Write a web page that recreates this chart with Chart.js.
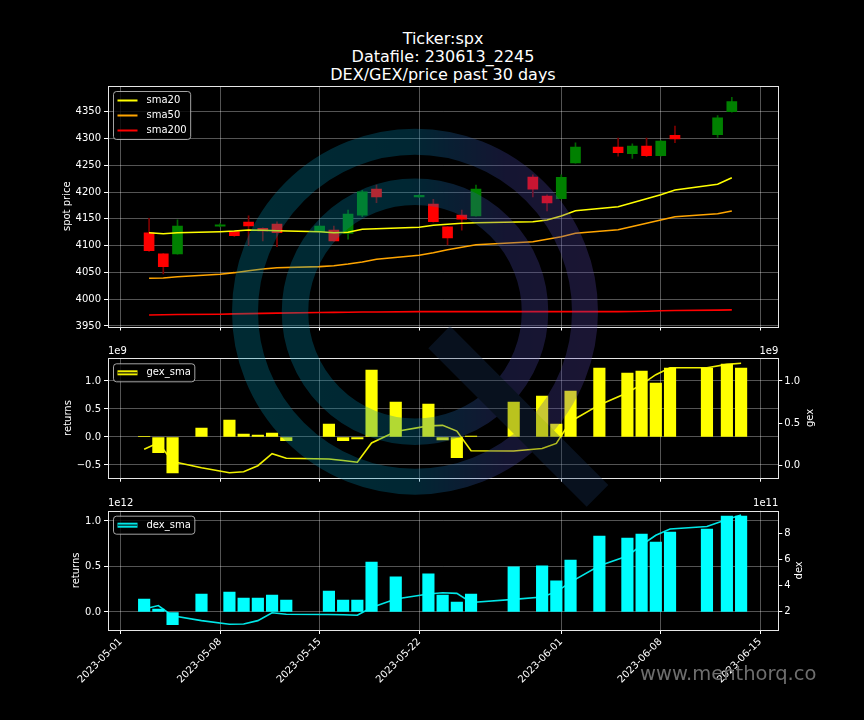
<!DOCTYPE html>
<html><head><meta charset="utf-8">
<script src="https://cdn.jsdelivr.net/npm/chart.js@4.4.0/dist/chart.umd.min.js"></script>
<style>
html,body{margin:0;padding:0;background:#000;}
#wrap{position:relative;width:864px;height:720px;background:#000;overflow:hidden;font-family:'DejaVu Sans',sans-serif;}
canvas{position:absolute;left:0;}
#title{position:absolute;left:143px;width:600px;top:30px;text-align:center;color:#fff;font-size:16px;line-height:18px;}
#site{position:absolute;left:640px;top:662px;color:#6e6e6e;font-size:19.5px;white-space:nowrap;}
#wm{pointer-events:none;}
</style></head><body>
<div id="wrap">
<div id="title">Ticker:spx<br>Datafile: 230613_2245<br>DEX/GEX/price past 30 days</div>
<canvas id="cTop" width="864" height="340" style="top:0"></canvas>
<canvas id="cMid" width="864" height="150" style="top:340px"></canvas>
<canvas id="cBot" width="864" height="230" style="top:490px"></canvas>
<div id="site">www.menthorq.co</div>
<canvas id="wm" width="864" height="720" style="top:0"></canvas>
</div>
<script>
// ---------------- data ----------------
const candleDates = ['2023-05-03','2023-05-04','2023-05-05','2023-05-08','2023-05-09','2023-05-10','2023-05-11','2023-05-12',
  '2023-05-15','2023-05-16','2023-05-17','2023-05-18','2023-05-19','2023-05-22','2023-05-23','2023-05-24','2023-05-25','2023-05-26',
  '2023-05-30','2023-05-31','2023-06-01','2023-06-02','2023-06-05','2023-06-06','2023-06-07','2023-06-08','2023-06-09','2023-06-12','2023-06-13'];
const opens  = [4124, 4084.5, 4084.5, 4136.5, 4126, 4144, 4132.5, 4140, 4126, 4129, 4123, 4157, 4205.5, 4191, 4177.5, 4135, 4157, 4155.5, 4228, 4192.5, 4187.5, 4254.5, 4284, 4271.5, 4286, 4268, 4306, 4307, 4350];
const highs  = [4151, 4085, 4148, 4141, 4127, 4155.5, 4133, 4144.5, 4137, 4136.5, 4166.5, 4203, 4213, 4195, 4186.5, 4135.5, 4166.5, 4213, 4232, 4195, 4232, 4292, 4301, 4290, 4301, 4296, 4323, 4343, 4377];
const lows   = [4089, 4047, 4084, 4135, 4117, 4100, 4109, 4098, 4125, 4108.5, 4112, 4154, 4180, 4190, 4144, 4101.5, 4129, 4155, 4191, 4165, 4187, 4254, 4267, 4263, 4266, 4267, 4292, 4302, 4349];
const closes = [4090.5, 4060.5, 4136.5, 4139, 4118.5, 4137, 4127.5, 4124, 4136.5, 4109, 4159, 4200.5, 4191, 4194, 4144.5, 4114.5, 4149.5, 4205.5, 4205.5, 4179.5, 4227.5, 4284, 4273.5, 4286, 4268, 4295, 4299, 4338.5, 4369];
const sma20  = [4124.1, 4122.3, 4124.1, 4126, 4127.2, 4129.2, 4128.6, 4127.9, 4126, 4124.1, 4124.9, 4130.5, 4131.6, 4134.2, 4138, 4139.8, 4141.7, 4142.8, 4144.7, 4147.9, 4155.3, 4165.2, 4172.7, 4180.1, 4187.6, 4195.1, 4203.8, 4214.5, 4226.8];
const sma50  = [4039, 4039.6, 4042, 4046.5, 4049.5, 4053.2, 4056.4, 4058.8, 4060.7, 4062.5, 4065.7, 4069.5, 4074.5, 4082, 4086.8, 4092.4, 4096.9, 4101.7, 4107.3, 4111.8, 4116.7, 4123, 4129.7, 4135.7, 4141.8, 4147.8, 4154, 4159.6, 4164.6];
const sma200 = [3970.5, 3971, 3971.3, 3972, 3972.5, 3973, 3973.5, 3974, 3975, 3975.3, 3975.6, 3976, 3976.2, 3976.7, 3976.7, 3976.7, 3976.7, 3976.7, 3976.7, 3976.7, 3976.7, 3976.7, 3976.8, 3977, 3977.5, 3978.3, 3979, 3979.5, 3980];

const flowTimes = ['2023-05-02 15:40','2023-05-03 15:40','2023-05-04 15:40','2023-05-06 16:30','2023-05-08 15:40','2023-05-09 15:40',
  '2023-05-10 15:40','2023-05-11 15:40','2023-05-12 15:40','2023-05-15 15:40','2023-05-16 15:40','2023-05-17 15:40','2023-05-18 15:40',
  '2023-05-20 08:30','2023-05-22 15:40','2023-05-23 15:40','2023-05-24 15:40','2023-05-25 15:40','2023-05-28 15:40','2023-05-30 15:40',
  '2023-05-31 15:40','2023-06-01 15:40','2023-06-03 16:20','2023-06-05 15:40','2023-06-06 15:40','2023-06-07 15:40','2023-06-08 15:40',
  '2023-06-11 06:00','2023-06-12 15:40','2023-06-13 15:40'];
const gexValues = [0.012e9, -0.28e9, -0.64e9, 0.16e9, 0.30e9, 0.054e9, 0.036e9, 0.071e9, -0.066e9, 0.232e9, -0.066e9, -0.036e9, 1.196e9, 0.625e9, 0.589e9,
  -0.054e9, -0.37e9, 0.015e9, 0.625e9, 0.732e9, 0.232e9, 0.821e9, 1.232e9, 1.143e9, 1.179e9, 0.964e9, 1.232e9, 1.232e9, 1.304e9, 1.232e9];
const gexSma = [0.19e9, 0.268e9, 0.045e9, -0.028e9, -0.088e9, -0.076e9, -0.005e9, 0.137e9, 0.083e9, 0.075e9, 0.057e9, 0.036e9, 0.265e9, 0.40e9, 0.468e9,
  0.474e9, 0.406e9, 0.173e9, 0.17e9, 0.2e9, 0.26e9, 0.52e9, 0.716e9, 0.86e9, 0.96e9, 1.075e9, 1.157e9, 1.157e9, 1.197e9, 1.21e9];
const dexValues = [0.143e12, 0.033e12, -0.14e12, 0.198e12, 0.22e12, 0.154e12, 0.154e12, 0.187e12, 0.132e12, 0.231e12, 0.132e12, 0.132e12, 0.549e12, 0.385e12, 0.418e12,
  0.187e12, 0.11e12, 0.198e12, 0.495e12, 0.506e12, 0.341e12, 0.571e12, 0.835e12, 0.813e12, 0.857e12, 0.769e12, 0.879e12, 0.912e12, 1.055e12, 1.055e12];
const dexSma = [2.17e11, 2.44e11, 1.65e11, 1.28e11, 1.0e11, 1.02e11, 1.28e11, 1.89e11, 1.77e11, 1.75e11, 1.73e11, 1.69e11, 2.29e11, 2.95e11, 3.33e11,
  3.43e11, 3.38e11, 2.68e11, 2.92e11, 3.1e11, 3.5e11, 4.24e11, 5.5e11, 6.25e11, 7.1e11, 7.85e11, 8.33e11, 8.52e11, 9.06e11, 9.41e11];

const dateTicks = ['2023-05-01','2023-05-08','2023-05-15','2023-05-22','2023-06-01','2023-06-08','2023-06-15'];
const priceTicks = [3950, 4000, 4050, 4100, 4150, 4200, 4250, 4300, 4350];
const gexLeftTicks = [-0.5e9, 0, 0.5e9, 1.0e9];
const gexRightTicks = [0, 0.5e9, 1.0e9];
const dexLeftTicks = [0, 0.5e12, 1.0e12];
const dexRightTicks = [2e11, 4e11, 6e11, 8e11];

// ---------------- helpers ----------------
const FONT = 'DejaVu Sans';
Chart.defaults.font.family = FONT;
Chart.defaults.font.size = 10;
Chart.defaults.color = '#ffffff';
const GRID = 'rgba(255,255,255,0.33)';
const epoch = Date.parse('2023-05-01T00:00:00Z');
const dayOf = s => {
  const t = s.length === 10 ? s + ' 00:00' : s;
  return (Date.parse(t.replace(' ', 'T') + ':00Z') - epoch) / 86400000;
};
const X_MIN = -0.89, X_MAX = 46.27;
const minus = s => s.replace('-', '\u2212');

function xAxis(showLabels, height) {
  return {
    type: 'linear', min: X_MIN, max: X_MAX, offset: false,
    afterBuildTicks: s => { s.ticks = dateTicks.map(d => ({ value: dayOf(d) })); },
    afterFit: s => { s.height = height; },
    grid: { color: GRID, tickColor: '#ffffff', tickLength: 4, offset: false },
    border: { display: false },
    ticks: { display: showLabels, autoSkip: false, maxRotation: 45, minRotation: 45, padding: 2,
      color: '#ffffff', font: { size: 10, family: FONT }, callback: (v, i) => dateTicks[i] }
  };
}
function yAxis(o) {
  return {
    type: 'linear', position: o.pos, min: o.min, max: o.max,
    afterBuildTicks: s => { s.ticks = o.ticks.map(v => ({ value: v })); },
    afterFit: s => { s.width = o.width; },
    grid: { color: GRID, tickColor: '#ffffff', tickLength: 4, drawOnChartArea: o.grid },
    border: { display: false },
    ticks: { color: '#ffffff', padding: o.pos === 'left' ? 3 : 2, font: { size: 10, family: FONT }, callback: v => o.fmt(v) },
    title: { display: o.pos === 'left', text: o.title, color: '#ffffff', font: { size: 10, family: FONT }, padding: { top: o.titleOffset, bottom: 0 } }
  };
}

const framePlugin = {
  id: 'frame',
  afterDatasetsDraw(chart) {
    const { ctx, chartArea: a } = chart;
    ctx.save();
    ctx.strokeStyle = '#e6e6e6'; ctx.lineWidth = 1;
    const l = Math.round(a.left) + 0.5, t = Math.round(a.top) + 0.5;
    ctx.strokeRect(l, t, Math.round(a.right) - Math.round(a.left), Math.round(a.bottom) - Math.round(a.top));
    ctx.restore();
  }
};
// offset texts ("1e9") and the right-hand axis title, read bottom-to-top like matplotlib
const offsetPlugin = {
  id: 'offsetText',
  afterDraw(chart, args, opts) {
    const { ctx, chartArea: a } = chart;
    ctx.save();
    ctx.fillStyle = '#ffffff'; ctx.font = '10px "' + FONT + '"'; ctx.textBaseline = 'bottom';
    if (opts.left) { ctx.textAlign = 'left'; ctx.fillText(opts.left, a.left, a.top - 2); }
    if (opts.right) { ctx.textAlign = 'right'; ctx.fillText(opts.right, a.right, a.top - 2); }
    const y2 = chart.scales.y2;
    if (y2 && opts.titleGap) {
      ctx.translate(a.right + opts.titleGap, (a.top + a.bottom) / 2);
      ctx.rotate(-Math.PI / 2);
      ctx.textAlign = 'center'; ctx.textBaseline = 'middle';
      ctx.fillText(y2.options.title.text, 0, 0);
    }
    ctx.restore();
  }
};
const legendPlugin = {
  id: 'mplLegend',
  afterDatasetsDraw(chart, args, opts) {
    if (!opts.items) return;
    const { ctx, chartArea: a } = chart;
    ctx.save();
    ctx.font = '10px "' + FONT + '"';
    const items = opts.items.map(i => chart.data.datasets[i]);
    const tw = Math.max(...items.map(d => ctx.measureText(d.label).width));
    const x = a.left + 5.5, y = a.top + 5.5, w = 37 + tw, h = 15 * items.length + 3, r = 3;
    ctx.beginPath();
    ctx.moveTo(x + r, y); ctx.lineTo(x + w - r, y); ctx.arcTo(x + w, y, x + w, y + r, r);
    ctx.lineTo(x + w, y + h - r); ctx.arcTo(x + w, y + h, x + w - r, y + h, r);
    ctx.lineTo(x + r, y + h); ctx.arcTo(x, y + h, x, y + h - r, r);
    ctx.lineTo(x, y + r); ctx.arcTo(x, y, x + r, y, r); ctx.closePath();
    ctx.fillStyle = 'rgba(0,0,0,0.8)'; ctx.fill();
    ctx.strokeStyle = 'rgba(204,204,204,0.8)'; ctx.lineWidth = 1; ctx.stroke();
    items.forEach((d, k) => {
      const cy = y + 9 + 15 * k;
      ctx.beginPath(); ctx.moveTo(x + 4, cy); ctx.lineTo(x + 24, cy);
      ctx.strokeStyle = d.borderColor; ctx.lineWidth = opts.handleWidth || 2; ctx.stroke();
      if (opts.inner) {
        ctx.beginPath(); ctx.moveTo(x + 4, cy); ctx.lineTo(x + 24, cy);
        ctx.strokeStyle = opts.inner; ctx.lineWidth = 1.6; ctx.stroke();
      }
      ctx.fillStyle = '#ffffff'; ctx.textBaseline = 'middle'; ctx.textAlign = 'left';
      ctx.fillText(d.label, x + 33, cy);
    });
    ctx.restore();
  }
};
const plugins = [framePlugin, legendPlugin, offsetPlugin];
const baseOpts = { responsive: false, animation: false, devicePixelRatio: 1 };

// ---------------- price panel ----------------
const cx = candleDates.map(dayOf);
new Chart(document.getElementById('cTop'), {
  type: 'bar',
  data: { datasets: [
    { type: 'line', label: 'sma20', data: cx.map((x, i) => ({ x, y: sma20[i] })), borderColor: '#ffff00', borderWidth: 1.6, pointRadius: 0, order: 0 },
    { type: 'line', label: 'sma50', data: cx.map((x, i) => ({ x, y: sma50[i] })), borderColor: '#ffa500', borderWidth: 1.6, pointRadius: 0, order: 0 },
    { type: 'line', label: 'sma200', data: cx.map((x, i) => ({ x, y: sma200[i] })), borderColor: '#ff0000', borderWidth: 1.6, pointRadius: 0, order: 0 },
    { type: 'bar', label: 'body', data: cx.map((x, i) => ({ x, y: [opens[i], closes[i]] })),
      backgroundColor: closes.map((c, i) => c >= opens[i] ? '#008000' : '#ff0000'), barThickness: 10, grouped: false, order: 1 },
    { type: 'bar', label: 'wick', data: cx.map((x, i) => ({ x, y: [lows[i], highs[i]] })),
      backgroundColor: closes.map((c, i) => c >= opens[i] ? '#006400' : '#800000'), barThickness: 1, grouped: false, order: 2 }
  ] },
  options: Object.assign({}, baseOpts, {
    layout: { padding: { top: 86, left: 0, right: 85.7, bottom: 0 } },
    scales: {
      x: xAxis(false, 13.5),
      y: yAxis({ pos: 'left', min: 3949, max: 4398, ticks: priceTicks, fmt: v => String(v), title: 'spot price', titleOffset: 61, width: 108, grid: true })
    },
    plugins: { legend: { display: false }, tooltip: { enabled: false }, mplLegend: { items: [0, 1, 2], handleWidth: 2 } }
  }),
  plugins
});

// ---------------- gex panel ----------------
const fx = flowTimes.map(dayOf);
new Chart(document.getElementById('cMid'), {
  type: 'bar',
  data: { datasets: [
    { type: 'bar', label: 'gex', data: fx.map((x, i) => ({ x, y: gexValues[i] })), backgroundColor: '#ffff00', barThickness: 11.5, yAxisID: 'y', order: 0 },
    { type: 'line', label: 'gex_sma', data: fx.map((x, i) => ({ x, y: gexSma[i] })), borderColor: '#f0f000', borderWidth: 1.6, pointRadius: 0, yAxisID: 'y2', order: 1 }
  ] },
  options: Object.assign({}, baseOpts, {
    layout: { padding: { top: 18.3, left: 0, right: 0, bottom: 0 } },
    scales: {
      x: xAxis(false, 12.3),
      y: yAxis({ pos: 'left', min: -0.727e9, max: 1.405e9, ticks: gexLeftTicks, fmt: v => minus((v / 1e9).toFixed(1)), title: 'returns', titleOffset: 62, width: 108, grid: true }),
      y2: yAxis({ pos: 'right', min: -0.147e9, max: 1.269e9, ticks: gexRightTicks, fmt: v => (v / 1e9).toFixed(1), title: 'gex', titleOffset: 0, width: 85.7, grid: false })
    },
    plugins: { legend: { display: false }, tooltip: { enabled: false },
      mplLegend: { items: [1], handleWidth: 5, inner: '#4a4a08' }, offsetText: { left: '1e9', right: '1e9', titleGap: 32 } }
  }),
  plugins
});

// ---------------- dex panel ----------------
new Chart(document.getElementById('cBot'), {
  type: 'bar',
  data: { datasets: [
    { type: 'bar', label: 'dex', data: fx.map((x, i) => ({ x, y: dexValues[i] })), backgroundColor: '#00ffff', barThickness: 11.5, yAxisID: 'y', order: 0 },
    { type: 'line', label: 'dex_sma', data: fx.map((x, i) => ({ x, y: dexSma[i] })), borderColor: '#00e6e6', borderWidth: 1.6, pointRadius: 0, yAxisID: 'y2', order: 1 }
  ] },
  options: Object.assign({}, baseOpts, {
    layout: { padding: { top: 20.7, left: 0, right: 0, bottom: 0 } },
    scales: {
      x: xAxis(true, 90),
      y: yAxis({ pos: 'left', min: -0.198e12, max: 1.113e12, ticks: dexLeftTicks, fmt: v => minus((v / 1e12).toFixed(1)), title: 'returns', titleOffset: 70, width: 108, grid: true }),
      y2: yAxis({ pos: 'right', min: 0.56e11, max: 9.74e11, ticks: dexRightTicks, fmt: v => (v / 1e11).toFixed(0), title: 'dex', titleOffset: 0, width: 85.7, grid: false })
    },
    plugins: { legend: { display: false }, tooltip: { enabled: false },
      mplLegend: { items: [1], handleWidth: 5, inner: '#005050' }, offsetText: { left: '1e12', right: '1e11', titleGap: 21 } }
  }),
  plugins
});

// ---------------- watermark (decoration) ----------------
(function () {
  const off = document.createElement('canvas');
  off.width = 864; off.height = 720;
  const o = off.getContext('2d');
  const g = o.createLinearGradient(232, 0, 598, 0);
  g.addColorStop(0, 'rgb(0,140,170)');
  g.addColorStop(0.48, 'rgb(0,130,170)');
  g.addColorStop(0.75, 'rgb(70,70,165)');
  g.addColorStop(1, 'rgb(90,70,170)');
  o.strokeStyle = g;
  o.lineWidth = 26;
  o.beginPath(); o.arc(415, 311.7, 170, 0, Math.PI * 2); o.stroke();
  o.lineWidth = 26.5;
  o.beginPath(); o.arc(415, 311.7, 120, 0, Math.PI * 2); o.stroke();
  o.fillStyle = 'rgb(28,58,100)';
  o.beginPath(); o.moveTo(450, 326); o.lineTo(608.3, 485); o.lineTo(586.7, 506.7); o.lineTo(428.3, 348.3); o.closePath(); o.fill();
  const w = document.getElementById('wm').getContext('2d');
  w.globalAlpha = 0.3;
  w.drawImage(off, 0, 0);
})();
</script>
</body></html>
